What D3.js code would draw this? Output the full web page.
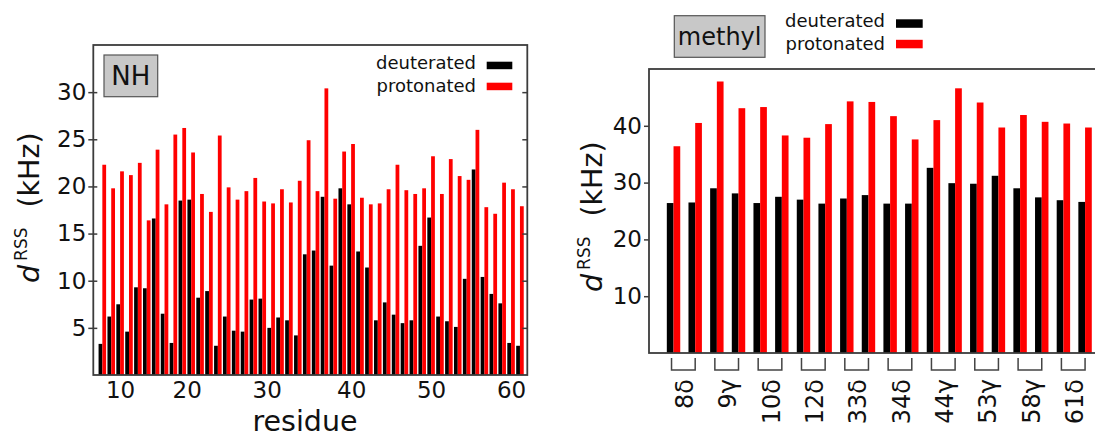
<!DOCTYPE html>
<html>
<head>
<meta charset="utf-8">
<script src="https://cdn.jsdelivr.net/npm/d3@7"></script>
<style>
body { margin: 0; background: #fff; }
svg { display: block; font-family: "DejaVu Sans", sans-serif; }
</style>
</head>
<body>
<div id="chart"></div>
<script>
// NH panel: residues with a resolved amide peak (prolines etc. left out)
var residues = [8, 9, 10, 11, 12, 13, 15, 16, 18, 19,
    21, 22, 23, 24, 25, 26, 27, 28, 29,
    31, 32, 33, 34, 35, 36, 37, 38, 39, 40,
    41, 42, 43, 44, 45, 46, 47, 49, 50,
    51, 52, 53, 55, 56, 57, 58, 59, 60, 61];
var nhDeuterated = [3.3, 6.2, 7.5, 4.6, 9.3, 9.2, 16.6, 6.5, 3.4, 18.5,
    18.6, 8.2, 8.9, 3.1, 6.2, 4.7, 4.6, 8.0, 8.1,
    5.0, 6.1, 5.8, 4.2, 12.8, 13.2, 18.9, 11.6, 19.8, 18.1,
    13.1, 11.4, 5.8, 7.7, 6.4, 5.5, 5.8, 13.7, 16.7,
    6.2, 5.7, 5.1, 10.2, 21.8, 10.4, 8.6, 7.6, 3.4, 3.1];
var nhProtonated = [22.3, 19.8, 21.6, 21.2, 22.5, 16.4, 23.9, 18.1, 25.5, 26.2,
    23.6, 19.2, 17.3, 25.4, 19.9, 18.6, 19.5, 20.9, 18.4,
    18.2, 19.7, 18.3, 20.6, 24.9, 19.5, 30.4, 18.7, 23.7, 24.5,
    18.8, 18.1, 18.2, 19.7, 22.3, 19.6, 19.2, 19.8, 23.2,
    19.2, 22.9, 21.1, 20.7, 26.0, 17.8, 17.1, 20.4, 19.7, 17.9];
var nhXTicks = [10, 20, 30, 40, 50, 60];
var nhYTicks = [5, 10, 15, 20, 25, 30];

// methyl panel: two methyl groups per residue label
var methylLabels = ["8δ", "9γ", "10δ", "12δ", "33δ", "34δ", "44γ", "53γ", "58γ", "61δ"];
var methylGroups = [];
methylLabels.forEach(function(l) { methylGroups.push(l + "1", l + "2"); });
var methylDeuterated = [26.4, 26.5, 29.0, 28.1, 26.4, 27.5, 27.0, 26.3, 27.2, 27.8,
    26.3, 26.3, 32.6, 29.9, 29.8, 31.2, 29.0, 27.4, 26.9, 26.6];
var methylProtonated = [36.4, 40.5, 47.8, 43.1, 43.3, 38.3, 37.9, 40.3, 44.3, 44.2,
    41.7, 37.6, 41.0, 46.6, 44.1, 39.7, 41.9, 40.7, 40.4, 39.7];
var methylYTicks = [10, 20, 30, 40];

var series = ["deuterated", "protonated"];
var color = d3.scaleOrdinal().domain(series).range(["#000000", "#ff0000"]);
var frameColor = "#3c3c3c";

var svg = d3.select("#chart").append("svg")
    .attr("width", 1095)
    .attr("height", 440);

// ---------- NH panel ----------
var nh = { left: 93.3, right: 527.3, top: 45, bottom: 375 };

var xNH = d3.scaleBand().domain(residues)
    .range([97.9, 524.4])
    .paddingInner(0.15)
    .paddingOuter(0.075);
var xNHSub = d3.scaleBand().domain(series).range([0, xNH.bandwidth()]);
// residue -> pixel, piecewise through the bar centres (for tick labels)
var xNHTick = d3.scaleLinear().domain(residues)
    .range(residues.map(function(r) { return xNH(r) + xNH.bandwidth() / 2; }));
var yNH = d3.scaleLinear().domain([0, 35]).range([nh.bottom, nh.top]);

var nhRows = residues.map(function(r, i) {
    return { residue: r, deuterated: nhDeuterated[i], protonated: nhProtonated[i] };
});

var nhGroups = svg.append("g").selectAll("g")
    .data(nhRows)
    .enter().append("g")
    .attr("transform", function(d) { return "translate(" + xNH(d.residue) + ",0)"; });

nhGroups.selectAll("rect")
    .data(function(d) { return series.map(function(s) { return { key: s, value: d[s] }; }); })
    .enter().append("rect")
    .attr("x", function(d) { return xNHSub(d.key); })
    .attr("y", function(d) { return yNH(d.value); })
    .attr("width", xNHSub.bandwidth())
    .attr("height", function(d) { return yNH(0) - yNH(d.value); })
    .attr("fill", function(d) { return color(d.key); });

// axes
svg.append("g")
    .attr("class", "axis")
    .attr("transform", "translate(" + nh.left + ",0)")
    .call(d3.axisLeft(yNH).tickValues(nhYTicks).tickSize(5).tickPadding(2));
svg.append("g")
    .attr("class", "axis")
    .attr("transform", "translate(" + nh.left + ",0)")
    .call(d3.axisLeft(yNH).tickValues(nhYTicks).tickSize(-4).tickFormat(""));
svg.append("g")
    .attr("class", "axis")
    .attr("transform", "translate(" + nh.right + ",0)")
    .call(d3.axisRight(yNH).tickValues(nhYTicks).tickSize(-5).tickFormat(""));
svg.append("g")
    .attr("class", "axis xlab")
    .attr("transform", "translate(0," + nh.bottom + ")")
    .call(d3.axisBottom(xNHTick).tickValues(nhXTicks).tickSize(0).tickPadding(7));

svg.append("rect")
    .attr("x", nh.left)
    .attr("y", nh.top)
    .attr("width", nh.right - nh.left)
    .attr("height", nh.bottom - nh.top)
    .attr("fill", "none")
    .attr("stroke", frameColor)
    .attr("stroke-width", 1.8);

svg.append("text")
    .attr("x", 305)
    .attr("y", 431)
    .attr("text-anchor", "middle")
    .attr("font-size", 28.5)
    .attr("fill", "#111")
    .text("residue");

// ---------- methyl panel ----------
var me = { left: 649, right: 1100, top: 69, bottom: 353 };

var xMe = d3.scaleBand().domain(methylGroups)
    .range([662.7, 1095.9])
    .paddingInner(0.38)
    .paddingOuter(0.19);
var xMeSub = d3.scaleBand().domain(series).range([0, xMe.bandwidth()]);
var yMe = d3.scaleLinear().domain([0, 50]).range([me.bottom, me.top]);

var meRows = methylGroups.map(function(g, i) {
    return { group: g, deuterated: methylDeuterated[i], protonated: methylProtonated[i] };
});

var meGroups = svg.append("g").selectAll("g")
    .data(meRows)
    .enter().append("g")
    .attr("transform", function(d) { return "translate(" + xMe(d.group) + ",0)"; });

meGroups.selectAll("rect")
    .data(function(d) { return series.map(function(s) { return { key: s, value: d[s] }; }); })
    .enter().append("rect")
    .attr("x", function(d) { return xMeSub(d.key); })
    .attr("y", function(d) { return yMe(d.value); })
    .attr("width", xMeSub.bandwidth())
    .attr("height", function(d) { return yMe(0) - yMe(d.value); })
    .attr("fill", function(d) { return color(d.key); });

svg.append("g")
    .attr("class", "axis")
    .attr("transform", "translate(" + me.left + ",0)")
    .call(d3.axisLeft(yMe).tickValues(methylYTicks).tickSize(5).tickPadding(2));

svg.append("rect")
    .attr("x", me.left)
    .attr("y", me.top)
    .attr("width", me.right - me.left)
    .attr("height", me.bottom - me.top)
    .attr("fill", "none")
    .attr("stroke", frameColor)
    .attr("stroke-width", 1.8);

// brackets joining the two methyls of a residue, with rotated labels
var brackets = svg.append("g").selectAll("g")
    .data(methylLabels)
    .enter().append("g");

brackets.append("path")
    .attr("d", function(l) {
        var x1 = xMe(l + "1") + xMe.bandwidth() / 2 - 2;
        var x2 = xMe(l + "2") + xMe.bandwidth() / 2;
        return "M" + x1 + ",358V370H" + x2 + "V358";
    })
    .attr("fill", "none")
    .attr("stroke", "#444")
    .attr("stroke-width", 1.5);

brackets.append("text")
    .attr("transform", function(l) {
        var xc = (xMe(l + "1") + xMe(l + "2")) / 2 + xMe.bandwidth() / 2;
        return "translate(" + xc + ",379) rotate(-90)";
    })
    .attr("dy", "0.36em")
    .attr("text-anchor", "end")
    .attr("font-size", 24)
    .attr("fill", "#111")
    .text(function(l) { return l; });

// ---------- shared styling ----------
svg.selectAll(".axis .domain").remove();
svg.selectAll(".axis line").attr("stroke", frameColor).attr("stroke-width", 1.5);
svg.selectAll(".axis text")
    .attr("font-family", "DejaVu Sans, sans-serif")
    .attr("font-size", 23)
    .attr("fill", "#111");

// y titles: d^RSS (kHz)
function yTitle(x, y) {
    var t = svg.append("text")
        .attr("transform", "translate(" + x + "," + y + ") rotate(-90)")
        .attr("font-size", 28.5)
        .attr("fill", "#111");
    t.append("tspan").attr("font-style", "italic").text("d");
    t.append("tspan").attr("dx", 4).attr("dy", -12).attr("font-size", 17).text("RSS");
    t.append("tspan").attr("dx", 20).attr("dy", 12).text("(kHz)");
}
yTitle(39, 283);
yTitle(602, 292);

// panel tags
function tag(x, y, w, h, label, size) {
    svg.append("rect")
        .attr("x", x).attr("y", y).attr("width", w).attr("height", h)
        .attr("fill", "#c8c8c8")
        .attr("stroke", "#555")
        .attr("stroke-width", 1.2);
    svg.append("text")
        .attr("x", x + w / 2)
        .attr("y", y + h / 2)
        .attr("dy", "0.36em")
        .attr("text-anchor", "middle")
        .attr("font-size", size)
        .attr("fill", "#111")
        .text(label);
}
tag(104, 55, 53.7, 41.7, "NH", 26);
tag(674.3, 15.7, 90.7, 41.6, "methyl", 24);

// legends
function legend(textX, baselines, swX, swY, swW, swH) {
    series.forEach(function(s, i) {
        svg.append("text")
            .attr("x", textX)
            .attr("y", baselines[i])
            .attr("text-anchor", "end")
            .attr("font-size", 18)
            .attr("fill", "#111")
            .text(s);
        svg.append("rect")
            .attr("x", swX)
            .attr("y", swY[i])
            .attr("width", swW)
            .attr("height", swH)
            .attr("fill", color(s));
    });
}
legend(476, [69.3, 91.7], 486.7, [61.7, 82.7], 25.6, 7.5);
legend(885, [27.3, 50], 896, [19.3, 39.8], 26.7, 8.5);
</script>
</body>
</html>
